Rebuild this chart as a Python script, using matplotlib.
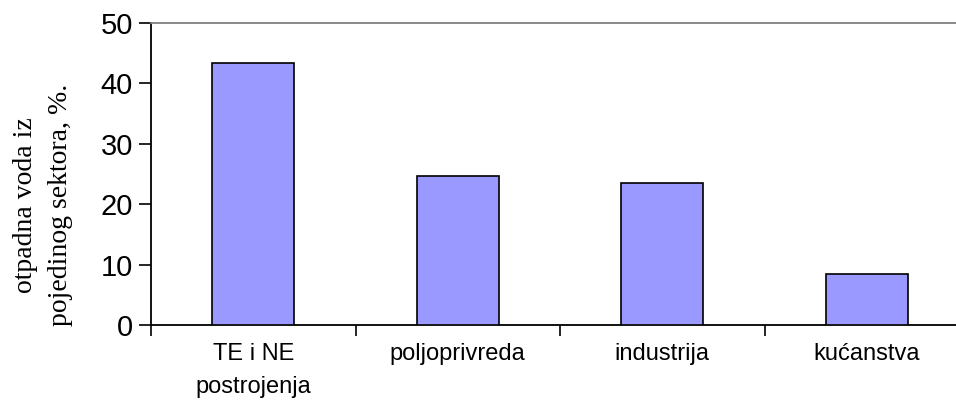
import matplotlib
matplotlib.use("Agg")

import matplotlib.pyplot as plt
import numpy as np

categories = ["TE i NE\npostrojenja", "poljoprivreda", "industrija", "kućanstva"]
values = [43.4, 24.7, 23.5, 8.4]
y_ticks = [0, 10, 20, 30, 40, 50]
y_label = "otpadna voda iz\npojedinog sektora, %."

W, H = 956, 403
fig = plt.figure(figsize=(W / 100, H / 100), dpi=100)
# plot area runs a little past the right edge of the picture, as in the original
ax = fig.add_axes([151 / W, 78 / H, 818 / W, 302 / H])

x = np.arange(len(categories))
ax.bar(x, values, width=0.4, color="#9999ff", edgecolor="black", linewidth=1.2, zorder=3)

ax.set_xlim(-0.5, len(categories) - 0.5)
ax.set_ylim(0, 50)
ax.set_yticks(y_ticks)
ax.set_yticklabels([str(v) for v in y_ticks], fontsize=21, family="Liberation Sans")

ax.set_xticks(x)
ax.set_xticklabels(categories, fontsize=17, family="Liberation Sans", linespacing=1.65)
ax.tick_params(axis="x", which="major", length=0, pad=13)
ax.set_xticks(np.arange(len(categories) + 1) - 0.5, minor=True)
ax.tick_params(axis="x", which="minor", length=8, width=1.2, direction="out")
ax.tick_params(axis="y", length=9, width=1.2, direction="out", pad=4)

for side in ["left", "bottom"]:
    ax.spines[side].set_linewidth(1.3)
    ax.spines[side].set_color("black")
ax.spines["top"].set_color("#808080")
ax.spines["top"].set_linewidth(1.3)
ax.spines["right"].set_visible(False)

fig.text(43 / W, 1 - 205 / H, y_label, rotation=90, ha="center", va="center",
         multialignment="center", fontsize=20, family="Liberation Serif", linespacing=1.55)

fig.savefig("out.png", dpi=100)
